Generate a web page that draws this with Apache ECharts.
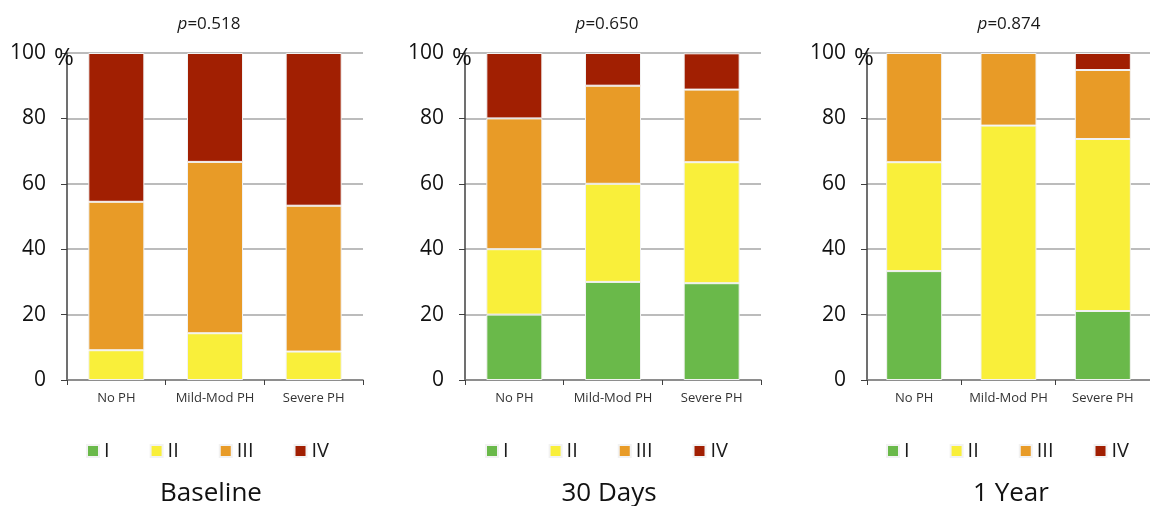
<!DOCTYPE html>
<html>
<head>
<meta charset="utf-8">
<script src="https://cdn.jsdelivr.net/npm/echarts@6/dist/echarts.min.js"></script>
<style>html,body{margin:0;padding:0;background:#fff}#c{width:1150px;height:506px}</style>
</head>
<body>
<div id="c"></div>
<script>
const categories = ['No PH', 'Mild-Mod PH', 'Severe PH'];
const classNames = ['I', 'II', 'III', 'IV'];
const yTicks = [0, 20, 40, 60, 80, 100];
const panelTitles = ['Baseline', '30 Days', '1 Year'];
const pValues = ['0.518', '0.650', '0.874'];

// values per panel, per class (I..IV), per category
const baselineI   = [0, 0, 0];
const baselineII  = [9.1, 14.3, 8.7];
const baselineIII = [45.4, 52.4, 44.6];
const baselineIV  = [45.5, 33.3, 46.7];

const days30I   = [20, 30, 29.6];
const days30II  = [20, 30, 37.0];
const days30III = [40, 30, 22.2];
const days30IV  = [20, 10, 11.1];

const year1I   = [33.3, 0, 21.1];
const year1II  = [33.3, 77.8, 52.6];
const year1III = [33.4, 22.2, 21.1];
const year1IV  = [0, 0, 5.2];

const panelData = [
  [baselineI, baselineII, baselineIII, baselineIV],
  [days30I, days30II, days30III, days30IV],
  [year1I, year1II, year1III, year1IV]
];

const colors = ['#6ab94a', '#f9ef3a', '#e89b27', '#a11f02'];
const FONT = 'Open Sans';
const gridLefts = [67, 465, 867];
const gridW = 296;
const legendLefts = [86, 485, 886];

const grids = [], xAxes = [], yAxes = [], series = [], titles = [], legends = [];
gridLefts.forEach((gl, p) => {
  grids.push({ left: gl, top: 53, width: gridW, height: 327 });
  xAxes.push({
    type: 'category', gridIndex: p, data: categories,
    axisLine: { lineStyle: { color: '#7f7f7f', width: 1.5 } },
    axisTick: { show: true, length: 5, lineStyle: { color: '#404040' } },
    axisLabel: { interval: 0, fontFamily: FONT, fontSize: 13, color: '#333', margin: 12 }
  });
  yAxes.push({
    type: 'value', gridIndex: p, min: 0, max: 100, interval: 20,
    axisLine: { show: true, lineStyle: { color: '#404040', width: 1.5 } },
    axisTick: { show: true, length: 6, lineStyle: { color: '#404040' } },
    splitLine: { lineStyle: { color: '#a6a6a6', width: 1.5 } },
    axisLabel: { fontFamily: FONT, fontSize: 21, color: '#111', margin: 21,
      formatter: v => yTicks.includes(v) ? String(v) : '' }
  });
  classNames.forEach((cn, k) => {
    series.push({
      type: 'bar', name: cn, stack: 'p' + p, xAxisIndex: p, yAxisIndex: p,
      data: panelData[p][k].map(v => (v === 0 ? null : v)), barWidth: 56,
      itemStyle: { color: colors[k], borderColor: '#f2f2f2', borderWidth: 1 },
      emphasis: { disabled: true }
    });
  });
  const cx = gl + gridW / 2;
  titles.push({
    text: '{i|p}=' + pValues[p], left: cx - 6, top: 24, padding: 0,
    textAlign: 'center', textVerticalAlign: 'middle',
    textStyle: { fontFamily: FONT, fontSize: 17, fontWeight: 'normal', color: '#1a1a1a',
      rich: { i: { fontFamily: FONT, fontSize: 17, fontStyle: 'italic', color: '#1a1a1a' } } }
  });
  titles.push({
    text: panelTitles[p], left: cx - 4, top: 494, padding: 0,
    textAlign: 'center', textVerticalAlign: 'middle',
    textStyle: { fontFamily: FONT, fontSize: 26, fontWeight: 'normal', color: '#111' }
  });
  titles.push({
    text: '%', left: gl - 3, top: 58, padding: 0,
    textAlign: 'center', textVerticalAlign: 'middle',
    textStyle: { fontFamily: FONT, fontSize: 24, fontWeight: 'normal', color: '#111' }
  });
  legends.push({
    data: classNames, left: legendLefts[p], top: 441, itemWidth: 12, itemHeight: 12,
    itemGap: 40, icon: 'rect', selectedMode: false, padding: 0,
    textStyle: { fontFamily: FONT, fontSize: 20, color: '#1a1a1a' }
  });
});

const chart = echarts.init(document.getElementById('c'), null, { renderer: 'canvas' });
chart.setOption({
  animation: false,
  color: colors,
  title: titles,
  legend: legends,
  grid: grids,
  xAxis: xAxes,
  yAxis: yAxes,
  series: series
});
</script>
</body>
</html>
